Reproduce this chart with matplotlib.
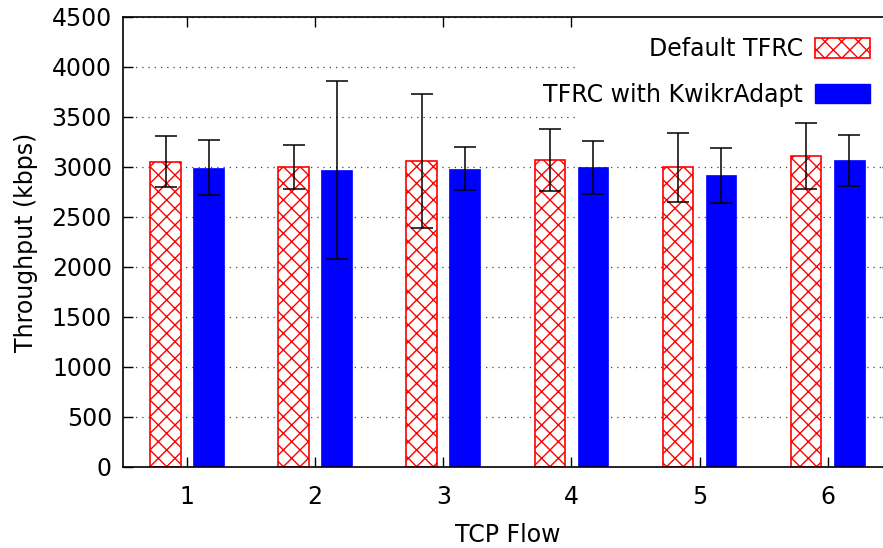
import matplotlib
matplotlib.use("Agg")
import matplotlib.pyplot as plt
from matplotlib.patches import Patch, Rectangle
import numpy as np

flows = ["1", "2", "3", "4", "5", "6"]
default_tfrc = [3053, 3000, 3060, 3073, 2997, 3110]
default_err = [253, 218, 672, 312, 344, 329]
kwikr_tfrc = [2993, 2973, 2983, 2997, 2920, 3067]
kwikr_err = [277, 890, 217, 262, 275, 252]

plt.rcParams['font.family'] = ['DejaVu Sans']
plt.rcParams['hatch.linewidth'] = 1.0

fig = plt.figure(figsize=(8.83, 5.48), dpi=100)
ax = fig.add_axes([123/883, 1-467/548, (891.7-123)/883, (467-17)/548])

x = np.arange(1, len(flows) + 1)
off = 0.168
w = 0.24

ax.bar(x - off, default_tfrc, w, facecolor='white', edgecolor='red', hatch='xx',
       linewidth=1.2, zorder=2)
ax.bar(x + off, kwikr_tfrc, w, facecolor='#0000ff', edgecolor='#0000ff', linewidth=0.5, zorder=2)
ax.errorbar(x - off, default_tfrc, yerr=default_err, fmt='none', ecolor='black',
            elinewidth=1.1, capsize=8, capthick=1.1, zorder=3)
ax.errorbar(x + off, kwikr_tfrc, yerr=kwikr_err, fmt='none', ecolor='black',
            elinewidth=1.1, capsize=8, capthick=1.1, zorder=3)

ax.set_xlim(0.5, 6.5)
ax.set_ylim(0, 4500)
ax.set_yticks(np.arange(0, 4501, 500))
ax.set_xticks(x)
ax.set_xticklabels(flows)
ax.yaxis.grid(True, linestyle=(0, (1, 4)), color='#444444', linewidth=0.9)
ax.set_axisbelow(True)
ax.tick_params(axis='both', direction='in', length=7, width=1, labelsize=17,
               top=True, right=True)
ax.tick_params(axis='y', pad=8)
ax.tick_params(axis='x', pad=13)
for s in ax.spines.values():
    s.set_linewidth(1.2)

ax.set_ylabel("Throughput (kbps)", fontsize=17, labelpad=10)
ax.set_xlabel("TCP Flow", fontsize=17, labelpad=10)

# white key background like gnuplot
ax.add_patch(Rectangle((0.5906, 0.727), 0.5, 0.3, transform=ax.transAxes,
                       facecolor='white', edgecolor='none', zorder=1))

handles = [Patch(facecolor='white', edgecolor='red', hatch='xx', linewidth=1.2),
           Patch(facecolor='#0000ff', edgecolor='#0000ff')]
leg = ax.legend(handles, ["Default TFRC", "TFRC with KwikrAdapt"],
                loc='upper right', bbox_to_anchor=(870/883, 1-37/548),
                bbox_transform=fig.transFigure, frameon=False, fontsize=17,
                markerfirst=False, handlelength=2.35, handleheight=0.9,
                handletextpad=0.5, labelspacing=0.92, borderpad=0, borderaxespad=0)

fig.savefig("out.png", dpi=100)
